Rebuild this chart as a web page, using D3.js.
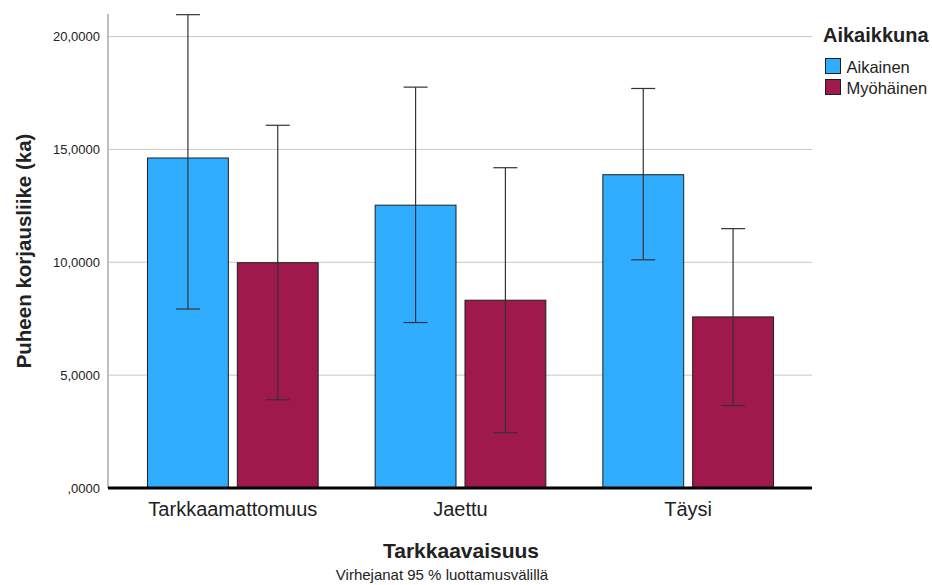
<!DOCTYPE html>
<html>
<head>
<meta charset="utf-8">
<script src="https://cdn.jsdelivr.net/npm/d3@7"></script>
<style>
  body { margin: 0; background: #fff; }
  text { font-family: "Liberation Sans", Arial, sans-serif; fill: #222; }
</style>
</head>
<body>
<div id="chart"></div>
<script>
const categories = ["Tarkkaamattomuus", "Jaettu", "Täysi"];
const groups = ["Aikainen", "Myöhäinen"];
const means = {
    "Aikainen": [14.62, 12.53, 13.88],
    "Myöhäinen": [9.98, 8.32, 7.58]
};
const lower = {
    "Aikainen": [7.93, 7.33, 10.11],
    "Myöhäinen": [3.91, 2.45, 3.65]
};
const upper = {
    "Aikainen": [20.97, 17.76, 17.70],
    "Myöhäinen": [16.07, 14.19, 11.49]
};
const yTicks = [0, 5, 10, 15, 20];
const colors = { "Aikainen": "#31adff", "Myöhäinen": "#a0194d" };

const width = 932, height = 585;
const plotLeft = 108, plotRight = 812, plotTop = 14, plotBottom = 488;

const svg = d3.select("#chart")
    .append("svg")
    .attr("width", width)
    .attr("height", height);

const y = d3.scaleLinear().domain([0, 21]).range([plotBottom, plotTop]);
const x = d3.scaleBand().domain(categories).range([119, 802]);
const xGroup = d3.scaleBand().domain(groups).range([28.5, x.bandwidth() - 28.5]).paddingInner(0.1);

// gridlines
svg.selectAll(".grid")
    .data(yTicks.filter(d => d > 0))
    .join("line")
    .attr("x1", plotLeft).attr("x2", plotRight)
    .attr("y1", d => y(d)).attr("y2", d => y(d))
    .attr("stroke", "#c8c8c8").attr("stroke-width", 1);

// y axis, SPSS style number format
const yAxis = svg.append("g")
    .attr("transform", `translate(${plotLeft},0)`)
    .call(d3.axisLeft(y).tickValues(yTicks).tickSize(0).tickPadding(8)
        .tickFormat(d => d === 0 ? ",0000" : d + ",0000"));
yAxis.select(".domain").attr("stroke", "#aaa").attr("stroke-width", 1.5).attr("d", `M0,${plotTop}V${plotBottom}`);
yAxis.selectAll("text").style("font-size", "13px").attr("fill", "#222");

// bars
const rows = [];
categories.forEach((c, i) => {
    groups.forEach(g => {
        rows.push({ cat: c, group: g, mean: means[g][i], lo: lower[g][i], hi: upper[g][i] });
    });
});

svg.selectAll(".bar")
    .data(rows)
    .join("rect")
    .attr("x", d => x(d.cat) + xGroup(d.group))
    .attr("y", d => y(d.mean))
    .attr("width", xGroup.bandwidth())
    .attr("height", d => y(0) - y(d.mean))
    .attr("fill", d => colors[d.group])
    .attr("stroke", "#1e1e1e")
    .attr("stroke-width", 1);

// error bars
const err = svg.selectAll(".err")
    .data(rows)
    .join("g")
    .attr("transform", d => `translate(${x(d.cat) + xGroup(d.group) + xGroup.bandwidth() / 2},0)`);
err.append("line")
    .attr("y1", d => y(d.lo)).attr("y2", d => y(d.hi))
    .attr("stroke", "#333").attr("stroke-width", 1.2);
err.append("line")
    .attr("x1", -12).attr("x2", 12)
    .attr("y1", d => y(d.hi)).attr("y2", d => y(d.hi))
    .attr("stroke", "#333").attr("stroke-width", 1.2);
err.append("line")
    .attr("x1", -12).attr("x2", 12)
    .attr("y1", d => y(d.lo)).attr("y2", d => y(d.lo))
    .attr("stroke", "#333").attr("stroke-width", 1.2);

// x axis
svg.append("line")
    .attr("x1", plotLeft).attr("x2", plotRight)
    .attr("y1", plotBottom).attr("y2", plotBottom)
    .attr("stroke", "#000").attr("stroke-width", 3);

svg.selectAll(".xlab")
    .data(categories)
    .join("text")
    .attr("x", d => x(d) + x.bandwidth() / 2)
    .attr("y", 516)
    .attr("text-anchor", "middle")
    .style("font-size", "20px")
    .text(d => d);

svg.append("text")
    .attr("x", 461).attr("y", 558)
    .attr("text-anchor", "middle")
    .style("font-size", "21px").style("font-weight", "bold")
    .text("Tarkkaavaisuus");

svg.append("text")
    .attr("x", 442).attr("y", 580)
    .attr("text-anchor", "middle")
    .style("font-size", "15px")
    .text("Virhejanat 95 % luottamusvälillä");

svg.append("text")
    .attr("transform", `translate(31,${(plotTop + plotBottom) / 2}) rotate(-90)`)
    .attr("text-anchor", "middle")
    .style("font-size", "20.5px").style("font-weight", "bold")
    .text("Puheen korjausliike (ka)");

// legend
svg.append("text")
    .attr("x", 823).attr("y", 42)
    .style("font-size", "20px").style("font-weight", "bold")
    .text("Aikaikkuna");

const legend = svg.selectAll(".legend")
    .data(groups)
    .join("g")
    .attr("transform", (d, i) => `translate(825.5,${58.5 + i * 21})`);
legend.append("rect")
    .attr("width", 15).attr("height", 15)
    .attr("fill", d => colors[d])
    .attr("stroke", "#1e1e1e").attr("stroke-width", 1);
legend.append("text")
    .attr("x", 21).attr("y", 14.5)
    .style("font-size", "16.5px")
    .text(d => d);
</script>
</body>
</html>
